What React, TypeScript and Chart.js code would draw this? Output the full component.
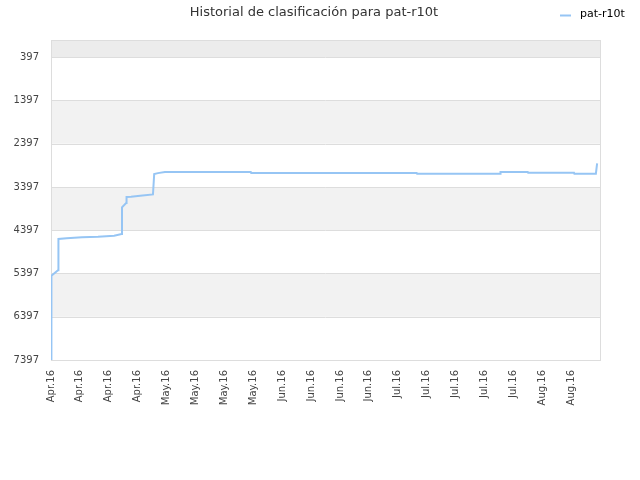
import React, { useEffect, useRef } from "react";
import { Chart, registerables } from "chart.js";

Chart.register(...registerables);

const titleText = "Historial de clasificación para pat-r10t";
const seriesName = "pat-r10t";

// x = day index since first sample, y = ranking position
const days = [0, 0.1, 1.7, 1.8, 3.8, 7.5, 11.4, 15.3, 17.1, 17.2, 18.2, 18.3, 19.4, 21.6, 24.7, 25.0, 25.9, 27.6, 48.4, 48.5, 88.6, 88.7, 108.8, 108.9, 115.5, 115.6, 126.7, 126.8, 132.0, 132.3];
const ranks = [7397, 5450, 5320, 4600, 4580, 4560, 4547, 4525, 4486, 3870, 3770, 3630, 3625, 3600, 3570, 3100, 3077, 3054, 3054, 3077, 3077, 3093, 3093, 3050, 3050, 3070, 3070, 3093, 3093, 2850];

const tickDays = [0, 7, 14, 21, 28, 35, 42, 49, 56, 63, 70, 77, 84, 91, 98, 105, 112, 119, 126];
const tickLabels = ["Apr.16", "Apr.16", "Apr.16", "Apr.16", "May.16", "May.16", "May.16", "May.16", "Jun.16", "Jun.16", "Jun.16", "Jun.16", "Jul.16", "Jul.16", "Jul.16", "Jul.16", "Jul.16", "Aug.16", "Aug.16"];
const yTicks = [397, 1397, 2397, 3397, 4397, 5397, 6397, 7397];

const FONT = "'DejaVu Sans', sans-serif";
const LINE_COLOR = "#96c5f4";

const bandsPlugin = {
  id: "bands",
  beforeDatasetsDraw(chart: any) {
    const { ctx, chartArea, scales } = chart;
    const y = scales.y;
    ctx.save();
    const edges = [y.min, ...yTicks];
    for (let i = 0; i < edges.length - 1; i++) {
      const a = y.getPixelForValue(edges[i]);
      const b = y.getPixelForValue(edges[i + 1]);
      let color: string | null = null;
      if (i === 0) color = "#ececec";
      else if (i % 2 === 0) color = "#f2f2f2";
      if (color) {
        ctx.fillStyle = color;
        ctx.fillRect(chartArea.left, a, chartArea.right - chartArea.left, b - a);
      }
    }
    ctx.strokeStyle = "#dddddd";
    ctx.lineWidth = 1;
    for (const t of yTicks) {
      const p = Math.round(y.getPixelForValue(t)) + 0.5;
      ctx.beginPath();
      ctx.moveTo(chartArea.left, p);
      ctx.lineTo(chartArea.right, p);
      ctx.stroke();
    }
    ctx.strokeRect(Math.round(chartArea.left) + 0.5, Math.round(chartArea.top) + 0.5, Math.round(chartArea.right - chartArea.left), Math.round(chartArea.bottom - chartArea.top));
    ctx.restore();
  },
  afterDraw(chart: any) {
    const { ctx } = chart;
    ctx.save();
    ctx.fillStyle = "#333333";
    ctx.font = "13px " + FONT;
    ctx.textAlign = "center";
    ctx.textBaseline = "middle";
    ctx.fillText(titleText, 314, 13);
    ctx.strokeStyle = LINE_COLOR;
    ctx.lineWidth = 2;
    ctx.beginPath();
    ctx.moveTo(560, 15.5);
    ctx.lineTo(571, 15.5);
    ctx.stroke();
    ctx.fillStyle = "#000000";
    ctx.font = "11px " + FONT;
    ctx.textAlign = "left";
    ctx.fillText(seriesName, 580, 14.5);
    ctx.restore();
  },
};

export default function App() {
  const ref = useRef<HTMLCanvasElement>(null);
  useEffect(() => {
    document.body.style.margin = "0";
    const chart = new Chart(ref.current!, {
      type: "line",
      data: {
        datasets: [
          {
            label: seriesName,
            data: days.map((d, i) => ({ x: d, y: ranks[i] })),
            borderColor: LINE_COLOR,
            backgroundColor: LINE_COLOR,
            borderWidth: 2,
            pointRadius: 0,
            tension: 0,
          },
        ],
      },
      options: {
        animation: false,
        responsive: false,
        devicePixelRatio: 1,
        layout: { padding: { top: 40, right: 40, left: 0, bottom: 0 } },
        plugins: { legend: { display: false }, title: { display: false }, tooltip: { enabled: false } },
        scales: {
          x: {
            type: "linear",
            min: 0,
            max: 133,
            afterBuildTicks: (s: any) => {
              s.ticks = tickDays.map((v) => ({ value: v }));
            },
            afterFit: (s: any) => {
              s.height = 120;
            },
            grid: { display: false, drawTicks: false },
            border: { display: false },
            ticks: {
              autoSkip: false,
              minRotation: 90,
              maxRotation: 90,
              padding: 10,
              color: "#444444",
              font: { family: FONT, size: 10 },
              callback: (v: any, i: number) => tickLabels[i],
            },
          },
          y: {
            reverse: true,
            min: 0,
            max: 7397,
            afterBuildTicks: (s: any) => {
              s.ticks = yTicks.map((v) => ({ value: v }));
            },
            afterFit: (s: any) => {
              s.width = 51;
            },
            grid: { display: false, drawTicks: false },
            border: { display: false },
            ticks: {
              padding: 12,
              color: "#444444",
              font: { family: FONT, size: 10 },
              callback: (v: any) => String(v),
            },
          },
        },
      },
      plugins: [bandsPlugin],
    });
    return () => chart.destroy();
  }, []);
  return (
    <div style={{ position: "absolute", left: 0, top: 0, width: 640, height: 480 }}>
      <canvas ref={ref} width={640} height={480} style={{ width: 640, height: 480 }} />
    </div>
  );
}
